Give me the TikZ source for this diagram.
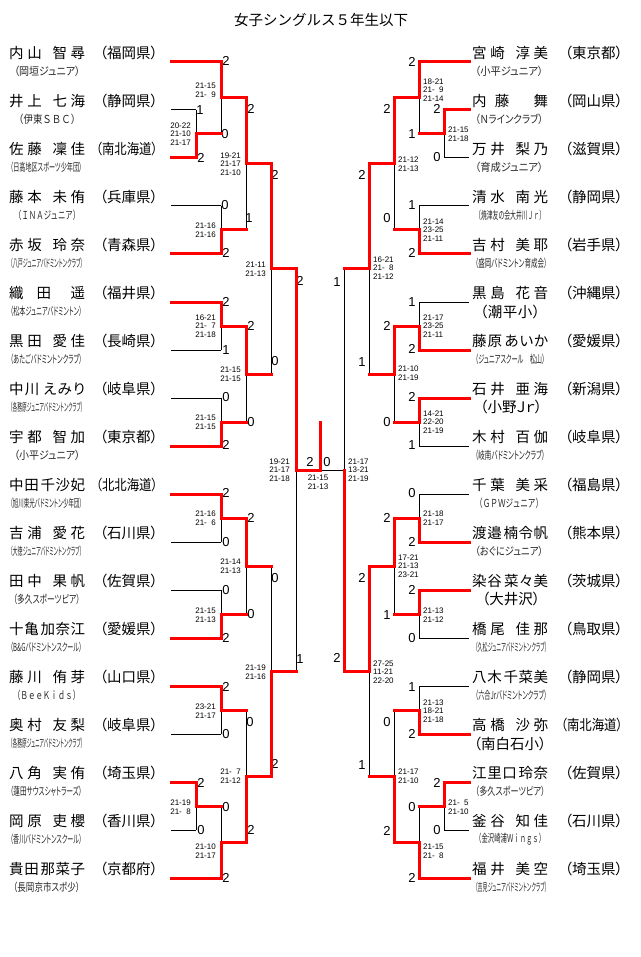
\documentclass[tikz,border=0pt]{standalone}
\usepackage{fontspec}
\usepackage{graphicx}
\usetikzlibrary{calc}
\pgfdeclarelayer{fg}
\pgfsetlayers{main,fg}
\newfontfamily\jp{Noto Sans CJK JP}[RawFeature=+palt]
\newfontfamily\jpf{Noto Sans CJK JP}
\newfontfamily\numfont{Liberation Sans}
\newcommand\hf{\hfill}
\newcommand\nb[1]{\makebox[76pt][l]{#1}}
\newsavebox\pfbx
\newcommand\pfbox[1]{\sbox\pfbx{（#1）}\ifdim\wd\pfbx>62pt\resizebox{62pt}{\height}{\usebox\pfbx}\else\usebox\pfbx\fi}
% player line: id, x0, x1, y, w|l
\newcommand\pl[5]{%
  \coordinate (#1s) at (#2,#4);
  \coordinate (#1e) at (#3,#4);
  \if#5w\begin{pgfonlayer}{fg}\draw[win] (#1s) -- (#1e);\end{pgfonlayer}%
  \else\draw[lose] (#1s) -- (#1e);\fi}
% match: id, top input, bottom input, winner t|b, dx of output
\newcommand\mt[5]{%
  \coordinate (#1m) at ($(#2)!0.5!(#3)$);
  \coordinate (#1o) at ($(#1m)+(#5,0)$);
  \if#4t\draw[lose] (#1m) -- (#3);
    \begin{pgfonlayer}{fg}\draw[win] (#2) -- (#1m) -- (#1o);\end{pgfonlayer}%
  \else\draw[lose] (#2) -- (#1m);
    \begin{pgfonlayer}{fg}\draw[win] (#3) -- (#1m) -- (#1o);\end{pgfonlayer}%
  \fi}
\tikzset{
  lose/.style={draw=black, line width=1pt},
  win/.style={draw=red, line width=3pt, line cap=rect, line join=miter},
  dig/.style={font=\numfont\fontsize{13}{14}\selectfont, inner sep=0pt},
  sc/.style={font=\numfont\fontsize{8}{8.5}\selectfont, inner sep=0pt, align=center},
  scL/.style={sc, align=right, anchor=east},
  scR/.style={sc, align=left, anchor=west},
  nm/.style={font=\jp\fontsize{14.5}{16}\selectfont, inner sep=0pt, anchor=west},
  pf/.style={font=\jp\fontsize{14.5}{16}\selectfont, inner sep=0pt, anchor=east},
  cl/.style={font=\jp\fontsize{11}{12}\selectfont, inner sep=0pt, anchor=west, text=black!85},
}
\begin{document}
\begin{tikzpicture}[x=1pt,y=-1pt]
\fill[white] (0,0) rectangle (640,957);
\useasboundingbox (0,0) rectangle (640,957);

\node[font=\jpf\fontsize{14.5}{16}\selectfont, inner sep=0pt] (title) at (321,20) {女子シングルス５年生以下};

% ---------- names left ----------
\foreach \i/\nmx/\pfx in {
 1/{内\hf 山\hf\hf\hf 智\hf 尋}/福岡県,
 2/{井\hf 上\hf\hf\hf 七\hf 海}/静岡県,
 3/{佐\hf 藤\hf\hf\hf 凜\hf 佳}/南北海道,
 4/{藤\hf 本\hf\hf\hf 未\hf 侑}/兵庫県,
 5/{赤\hf 坂\hf\hf\hf 玲\hf 奈}/青森県,
 6/{織\hf\hf 田\hf\hf\hf 遥}/福井県,
 7/{黒\hf 田\hf\hf\hf 愛\hf 佳}/長崎県,
 8/{中\hf 川\hf\hf\hf え\hf み\hf り}/岐阜県,
 9/{宇\hf 都\hf\hf\hf 智\hf 加}/東京都,
 10/{中\hf 田\hf\hf\hf 千\hf 沙\hf 妃}/北北海道,
 11/{吉\hf 浦\hf\hf\hf 愛\hf 花}/石川県,
 12/{田\hf 中\hf\hf\hf 果\hf 帆}/佐賀県,
 13/{十\hf 亀\hf\hf\hf 加\hf 奈\hf 江}/愛媛県,
 14/{藤\hf 川\hf\hf\hf 侑\hf 芽}/山口県,
 15/{奥\hf 村\hf\hf\hf 友\hf 梨}/岐阜県,
 16/{八\hf 角\hf\hf\hf 実\hf 侑}/埼玉県,
 17/{岡\hf 原\hf\hf\hf 吏\hf 櫻}/香川県,
 18/{貴\hf 田\hf\hf\hf 那\hf 菜\hf 子}/京都府}{
  \node[nm] (nL\i) at (9,{53+48*(\i-1)}) {\nb{\nmx}};
  \node[pf] (pL\i) at (158,{53+48*(\i-1)}) {\pfbox{\pfx}};
}
% ---------- names right ----------
\foreach \i/\nmx/\pfx in {
 1/{宮\hf 崎\hf\hf\hf 淳\hf 美}/東京都,
 2/{内\hf 藤\hf\hf\hf 舞}/岡山県,
 3/{万\hf 井\hf\hf\hf 梨\hf 乃}/滋賀県,
 4/{清\hf 水\hf\hf\hf 南\hf 光}/静岡県,
 5/{吉\hf 村\hf\hf\hf 美\hf 耶}/岩手県,
 6/{黒\hf 島\hf\hf\hf 花\hf 音}/沖縄県,
 7/{藤\hf 原\hf\hf\hf あ\hf い\hf か}/愛媛県,
 8/{石\hf 井\hf\hf\hf 亜\hf 海}/新潟県,
 9/{木\hf 村\hf\hf\hf 百\hf 伽}/岐阜県,
 10/{千\hf 葉\hf\hf\hf 美\hf 采}/福島県,
 11/{渡\hf 邉\hf\hf\hf 楠\hf 令\hf 帆}/熊本県,
 12/{染\hf 谷\hf\hf\hf 菜\hf 々\hf 美}/茨城県,
 13/{橋\hf 尾\hf\hf\hf 佳\hf 那}/鳥取県,
 14/{八\hf 木\hf\hf\hf 千\hf 菜\hf 美}/静岡県,
 15/{高\hf 橋\hf\hf\hf 沙\hf 弥}/南北海道,
 16/{江\hf 里\hf 口\hf\hf\hf 玲\hf 奈}/佐賀県,
 17/{釜\hf 谷\hf\hf\hf 知\hf 佳}/石川県,
 18/{福\hf 井\hf\hf\hf 美\hf 空}/埼玉県}{
  \node[nm] (nR\i) at (472,{53+48*(\i-1)}) {\nb{\nmx}};
  \node[pf] (pR\i) at (623,{53+48*(\i-1)}) {\pfbox{\pfx}};
}
% ---------- clubs left ----------
\foreach \i/\xs/\w/\cx in {
 1/14/66/（岡垣ジュニア）,
 2/14/66/{\jpf （伊東ＳＢＣ）},
 3/10/72/（日高地区スポーツ少年団）,
 4/14/66/{\jpf （ＩＮＡジュニア）},
 5/10/73/（八戸ジュニアバドミントンクラブ）,
 6/10/72/（松本ジュニアバドミントン）,
 7/10/72/（あたごバドミントンクラブ）,
 8/10/73/（各務原ジュニアバドミントンクラブ）,
 9/14/66/（小平ジュニア）,
 10/10/72/（旭川東光バドミントン少年団）,
 11/10/72/（大徳ジュニアバドミントンクラブ）,
 12/13/67/（多久スポーツピア）,
 13/10/72/（B\&Gバドミントンスクール）,
 14/13/67/{\jpf （ＢｅｅＫｉｄｓ）},
 15/10/73/（各務原ジュニアバドミントンクラブ）,
 16/10/72/（蓮田サウスシャトラーズ）,
 17/10/72/（香川バドミントンスクール）,
 18/13/67/（長岡京市スポ少）}{
  \node[cl] (cL\i) at (\xs,{71+48*(\i-1)}) {\resizebox{\w pt}{\height}{\cx}};
}
% ---------- clubs right ----------
\foreach \i/\w/\cx in {
 1/68/（小平ジュニア）,
 2/68/（Ｎラインクラブ）,
 3/68/（育成ジュニア）,
 4/70/{\jpf （焼津友の会大井川Ｊｒ）},
 5/72/（盛岡バドミントン育成会）,
 7/70/（ジュニアスクール　松山）,
 9/70/（岐南バドミントンクラブ）,
 10/68/{\jpf （ＧＰＷジュニア）},
 11/68/（おぐにジュニア）,
 13/72/（久松ジュニアバドミントンクラブ）,
 14/72/（六合Jrバドミントンクラブ）,
 16/70/（多久スポーツピア）,
 17/70/{\jpf （金沢崎浦Ｗｉｎｇｓ）},
 18/72/（吉見ジュニアバドミントンクラブ）}{
  \node[cl] (cR\i) at (475,{71+48*(\i-1)}) {\resizebox{\w pt}{\height}{\cx}};
}
\node[nm] (cR6) at (480,312) {\makebox[60pt]{（\hf 潮\hf 平\hf 小\hf ）}};
\node[nm] (cR8) at (480,407) {\makebox[62pt]{（\hf 小\hf 野\hf Ｊ\hf ｒ\hf ）}};
\node[nm] (cR12) at (482,599) {\makebox[58pt]{（\hf 大\hf 井\hf 沢\hf ）}};
\node[nm] (cR15) at (478,744) {\makebox[64pt]{（\hf 南\hf 白\hf 石\hf 小\hf ）}};

% ---------- bracket left ----------
\pl{L1}{171}{221}{62}{w}
\pl{L2}{171}{196}{110}{l}
\pl{L3}{171}{196}{158}{w}
\pl{L4}{171}{221}{206}{l}
\pl{L5}{171}{221}{254}{w}
\pl{L6}{171}{221}{302}{w}
\pl{L7}{171}{221}{350}{l}
\pl{L8}{171}{221}{398}{l}
\pl{L9}{171}{221}{446}{w}
\pl{L10}{171}{221}{494}{w}
\pl{L11}{171}{221}{542}{l}
\pl{L12}{171}{221}{590}{l}
\pl{L13}{171}{221}{638}{w}
\pl{L14}{171}{221}{686}{w}
\pl{L15}{171}{221}{734}{l}
\pl{L16}{171}{196}{782}{w}
\pl{L17}{171}{196}{830}{l}
\pl{L18}{171}{221}{878}{w}
\mt{mA}{L2e}{L3e}{b}{25}
\mt{mB}{L1e}{mAo}{t}{25}
\mt{mC}{L4e}{L5e}{b}{25}
\mt{mD}{mBo}{mCo}{t}{25}
\mt{mE}{L6e}{L7e}{t}{25}
\mt{mF}{L8e}{L9e}{b}{25}
\mt{mG}{mEo}{mFo}{t}{25}
\mt{mH}{mDo}{mGo}{t}{25}
\mt{mI}{L10e}{L11e}{t}{25}
\mt{mJ}{L12e}{L13e}{b}{25}
\mt{mK}{mIo}{mJo}{t}{25}
\mt{mL}{L14e}{L15e}{t}{25}
\mt{mM}{L16e}{L17e}{t}{25}
\mt{mN}{mMo}{L18e}{b}{25}
\mt{mO}{mLo}{mNo}{b}{25}
\mt{mP}{mKo}{mOo}{b}{25}
\mt{mQ}{mHo}{mPo}{t}{24}

% ---------- bracket right ----------
\pl{R1}{469}{419}{62}{w}
\pl{R2}{469}{444}{110}{w}
\pl{R3}{469}{444}{158}{l}
\pl{R4}{469}{419}{206}{l}
\pl{R5}{469}{419}{254}{w}
\pl{R6}{469}{419}{302}{l}
\pl{R7}{469}{419}{350}{w}
\pl{R8}{469}{419}{398}{w}
\pl{R9}{469}{419}{446}{l}
\pl{R10}{469}{419}{494}{l}
\pl{R11}{469}{419}{542}{w}
\pl{R12}{469}{419}{590}{w}
\pl{R13}{469}{419}{638}{l}
\pl{R14}{469}{419}{686}{l}
\pl{R15}{469}{419}{734}{w}
\pl{R16}{469}{444}{782}{w}
\pl{R17}{469}{444}{830}{l}
\pl{R18}{469}{419}{878}{w}
\mt{nA}{R2e}{R3e}{t}{-25}
\mt{nB}{R1e}{nAo}{t}{-25}
\mt{nC}{R4e}{R5e}{b}{-25}
\mt{nD}{nBo}{nCo}{t}{-25}
\mt{nE}{R6e}{R7e}{b}{-25}
\mt{nF}{R8e}{R9e}{t}{-25}
\mt{nG}{nEo}{nFo}{t}{-25}
\mt{nH}{nDo}{nGo}{t}{-25}
\mt{nI}{R10e}{R11e}{b}{-25}
\mt{nJ}{R12e}{R13e}{t}{-25}
\mt{nK}{nIo}{nJo}{t}{-25}
\mt{nL}{R14e}{R15e}{b}{-25}
\mt{nM}{R16e}{R17e}{t}{-25}
\mt{nN}{nMo}{R18e}{b}{-25}
\mt{nO}{nLo}{nNo}{b}{-25}
\mt{nP}{nKo}{nOo}{t}{-25}
% right semifinal (winner does not go on) and final
\coordinate (nQm) at ($(nHo)!0.5!(nPo)$);
\coordinate (nQo) at ($(nQm)+(-24,0)$);
\coordinate (champ) at ($(mQo)+(0,-48)$);
\draw[lose] (nHo) -- (nQm) -- (nQo);
\begin{pgfonlayer}{fg}
\draw[win] (nPo) -- (nQm);
\draw[win] (mQo) -- (champ);
\end{pgfonlayer}

% ---------- game counts ----------
\foreach \n/\x/\y/\t in {
 dA1/200/110/1, dA2/201/158/2, dB1/226/61/2, dB2/225/134/0,
 dC1/225/205/0, dC2/226/253/2, dD1/251/109/2, dD2/249/218/1,
 dE1/226/302/2, dE2/226/350/1, dF1/226/397/0, dF2/226/445/2,
 dG1/251/326/2, dG2/251/422/0, dH1/275/175/2, dH2/275/361/0,
 dI1/226/493/2, dI2/226/542/0, dJ1/226/590/0, dJ2/226/638/2,
 dK1/251/518/2, dK2/251/614/0, dL1/226/687/2, dL2/226/734/0,
 dM1/201/783/2, dM2/201/830/0, dN1/226/807/0, dN2/226/878/2,
 dO1/250/722/0, dO2/251/830/2, dP1/275/578/0, dP2/275/764/2,
 dQ1/300/281/2, dQ2/300/659/1, dZ1/310/462/2, dZ2/327/462/0,
 eA1/437/109/2, eA2/437/157/0, eB1/412/62/2, eB2/412/134/1,
 eC1/412/205/1, eC2/412/253/2, eD1/387/109/2, eD2/387/218/0,
 eE1/412/302/1, eE2/412/349/2, eF1/412/397/2, eF2/412/445/1,
 eG1/387/326/2, eG2/387/422/0, eH1/362/175/2, eH2/362/362/1,
 eI1/412/493/0, eI2/412/542/2, eJ1/412/590/2, eJ2/412/638/0,
 eK1/387/518/2, eK2/387/615/1, eL1/412/687/1, eL2/412/734/2,
 eM1/437/783/2, eM2/437/830/0, eN1/412/807/0, eN2/412/878/2,
 eO1/387/722/0, eO2/387/831/2, eP1/362/578/2, eP2/362/765/1,
 eQ1/337/282/1, eQ2/337/658/2}{
  \node[dig] (\n) at (\x,\y) {\t};
}

% ---------- scores left ----------
\node[scL] (sA) at (191,134) {20-22\\21-10\\21-17};
\node[scL] (sB) at (216,90) {21-15\\21-\phantom{0}9};
\node[scL] (sC) at (216,230) {21-16\\21-16};
\node[scL] (sD) at (241,164) {19-21\\21-17\\21-10};
\node[scL] (sE) at (216,326) {16-21\\21-\phantom{0}7\\21-18};
\node[scL] (sF) at (216,422) {21-15\\21-15};
\node[scL] (sG) at (241,374) {21-15\\21-15};
\node[scL] (sH) at (266,269) {21-11\\21-13};
\node[scL] (sI) at (216,518) {21-16\\21-\phantom{0}6};
\node[scL] (sJ) at (216,615) {21-15\\21-13};
\node[scL] (sK) at (241,566) {21-14\\21-13};
\node[scL] (sL) at (216,711) {23-21\\21-17};
\node[scL] (sM) at (191,807) {21-19\\21-\phantom{0}8};
\node[scL] (sN) at (216,851) {21-10\\21-17};
\node[scL] (sO) at (241,776) {21-\phantom{0}7\\21-12};
\node[scL] (sP) at (266,672) {21-19\\21-16};
\node[scL] (sQ) at (290,470) {19-21\\21-17\\21-18};
\node[sc, anchor=north] (sZ) at (318,475) {21-15\\21-13};
% ---------- scores right ----------
\node[scR] (tA) at (448,134) {21-15\\21-18};
\node[scR] (tB) at (423,90) {18-21\\21-\phantom{0}9\\21-14};
\node[scR] (tC) at (423,230) {21-14\\23-25\\21-11};
\node[scR] (tD) at (398,164) {21-12\\21-13};
\node[scR] (tE) at (423,326) {21-17\\23-25\\21-11};
\node[scR] (tF) at (423,422) {14-21\\22-20\\21-19};
\node[scR] (tG) at (398,373) {21-10\\21-19};
\node[scR] (tH) at (373,268) {16-21\\21-\phantom{0}8\\21-12};
\node[scR] (tI) at (423,518) {21-18\\21-17};
\node[scR] (tJ) at (423,615) {21-13\\21-12};
\node[scR] (tK) at (398,566) {17-21\\21-13\\23-21};
\node[scR] (tL) at (423,711) {21-13\\18-21\\21-18};
\node[scR] (tM) at (448,807) {21-\phantom{0}5\\21-10};
\node[scR] (tN) at (423,851) {21-15\\21-\phantom{0}8};
\node[scR] (tO) at (398,776) {21-17\\21-10};
\node[scR] (tP) at (373,672) {27-25\\11-21\\22-20};
\node[scR] (tQ) at (348,470) {21-17\\13-21\\21-19};
\end{tikzpicture}
\end{document}
